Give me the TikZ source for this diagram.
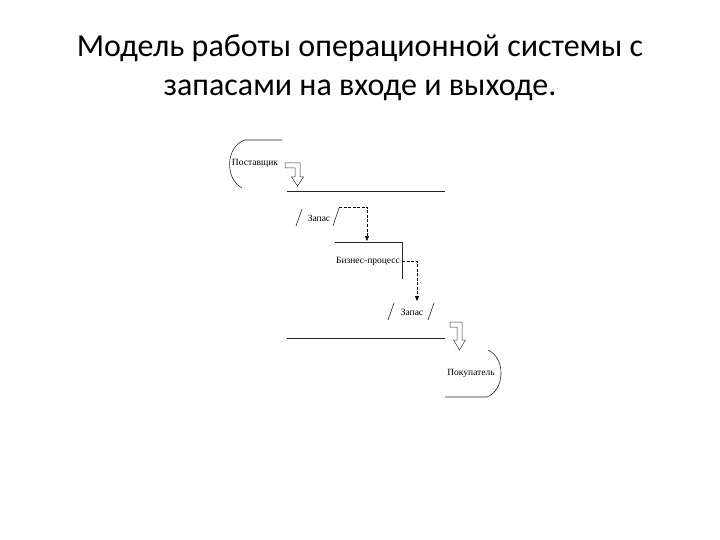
\documentclass[tikz,border=0pt]{standalone}
\usepackage{fontspec}
\setmainfont{Carlito}
\newfontfamily\smallfont{Liberation Serif}
\usetikzlibrary{arrows.meta}
\begin{document}
\begin{tikzpicture}[x=1pt,y=-1pt,
  titletext/.style={font=\fontsize{32}{36}\selectfont, inner sep=0pt},
  lbl/.style={font=\smallfont\fontsize{9.5}{11}\selectfont, inner sep=0pt},
  thin line/.style={line width=0.6pt, black!85},
  flow/.style={line width=0.6pt, dashed, dash pattern=on 3pt off 1.5pt, -{Triangle[length=5pt,width=4pt]}},
  hollow/.style={line width=0.5pt, black!80}]
\useasboundingbox (0,0) rectangle (720,540);
\fill[white] (0,0) rectangle (720,540);
% title
\node[titletext] (t1) at (360,48) {Модель работы операционной системы с};
\node[titletext] (t2) at (360,90) {запасами на входе и выходе.};
% supplier
\node[lbl] (sup) at (255,163) {Поставщик};
\draw[thin line] (282,140) -- (245,140) .. controls (226,146) and (224,178) .. (242,188);
\draw[hollow] (285,163) -- (300,163) -- (300,177) -- (303.5,177) -- (297.5,186) -- (291.5,177) -- (295,177) -- (295,168) -- (285,168) -- cycle;
% line 1
\coordinate (l1a) at (287,191);
\coordinate (l1b) at (445,191);
\draw[thin line] (l1a) -- (l1b);
% stock 1
\node[lbl] (st1) at (319,218) {Запас};
\draw[thin line] (296,226) -- (302,209);
\draw[thin line] (333,226) -- (339,208);
\coordinate (d1s) at (339,207);
\coordinate (d1c) at (367,207);
\coordinate (bp top) at (367,241);
\draw[flow] (d1s) -- (d1c) -- (bp top);
% business process
\node[lbl] (bp) at (368,261) {Бизнес-процесс};
\draw[thin line] (335,242) -- (402,242) -- (402,279);
\coordinate (d2s) at (402,261);
\coordinate (d2c) at (417,261);
\coordinate (st2 top) at (417,301);
\draw[flow] (d2s) -- (d2c) -- (st2 top);
% stock 2
\node[lbl] (st2) at (412,312) {Запас};
\draw[thin line] (388,320) -- (394,303);
\draw[thin line] (428,320) -- (434,303);
% line 2
\coordinate (l2a) at (287,338);
\coordinate (l2b) at (445,338);
\draw[thin line] (l2a) -- (l2b);
% customer
\draw[hollow] (450,322) -- (462,322) -- (462,340) -- (465.5,340) -- (459.5,350) -- (453.5,340) -- (457,340) -- (457,327) -- (450,327) -- cycle;
\node[lbl] (cust) at (471,373) {Покупатель};
\draw[thin line] (445,397) -- (487,397) .. controls (505,390) and (506,358) .. (488,350);
\end{tikzpicture}
\end{document}
